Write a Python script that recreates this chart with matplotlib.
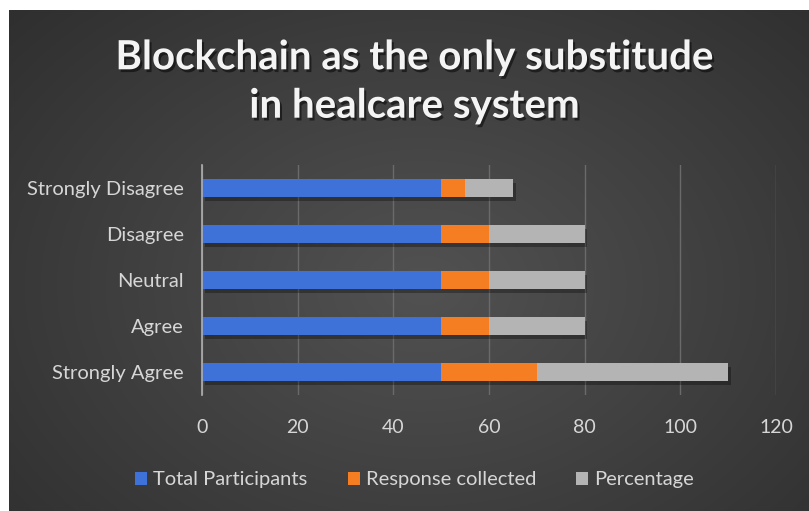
import numpy as np
import matplotlib
matplotlib.use("Agg")
import matplotlib.pyplot as plt
import matplotlib.patheffects as pe

categories = ["Strongly Agree", "Agree", "Neutral", "Disagree", "Strongly Disagree"]
total_participants = [50, 50, 50, 50, 50]
response_collected = [20, 10, 10, 10, 5]
percentage = [40, 20, 20, 20, 10]
series_names = ["Total Participants", "Response collected", "Percentage"]
xticks = [0, 20, 40, 60, 80, 100, 120]
title = "Blockchain as the only substitude\nin healcare system"

colors = ["#3F72D8", "#F57D22", "#B4B4B4"]
FONT = "Lato"

W, H = 809, 511
fig = plt.figure(figsize=(W / 100, H / 100), dpi=100)
fig.patch.set_facecolor("white")

# radial gradient background
bg = fig.add_axes([9 / W, 0, 1 - 9 / W, 1 - 10 / H])
bg.set_axis_off()
yy, xx = np.mgrid[0:200, 0:320]
cx, cy = 165, 110
r = np.sqrt(((xx - cx) / 220.0) ** 2 + ((yy - cy) / 160.0) ** 2)
val = 0.32 - 0.16 * np.clip(r, 0, 1.2) / 1.2
img = np.dstack([val, val, val])
bg.imshow(img, aspect="auto", extent=[0, 1, 0, 1], interpolation="bilinear")
bg.set_xlim(0, 1)
bg.set_ylim(0, 1)

ax = fig.add_axes([202 / W, 1 - 395 / H, (776 - 202) / W, (395 - 165) / H])
ax.patch.set_alpha(0)

y = np.arange(len(categories))
left = np.zeros(len(categories))
shadow = [pe.SimplePatchShadow(offset=(2, -3), shadow_rgbFace="black", alpha=0.3), pe.Normal()]
for name, vals, c in zip(series_names, [total_participants, response_collected, percentage], colors):
    bars = ax.barh(y, vals, left=left, height=0.39, color=c, label=name, zorder=3)
    for b in bars:
        b.set_path_effects(shadow)
    left = left + np.array(vals)

ax.set_xlim(0, 120)
ax.set_ylim(-0.5, len(categories) - 0.5)
ax.set_xticks(xticks)
ax.set_yticks(y)
ax.set_yticklabels(categories)
ax.grid(axis="x", color="#6a6a6a", linewidth=1, zorder=0)
for s in ["top", "right", "bottom"]:
    ax.spines[s].set_visible(False)
ax.spines["left"].set_color("#b0b0b0")
ax.spines["left"].set_linewidth(1.2)
ax.spines["left"].set_zorder(4)
ax.tick_params(axis="both", length=0, colors="#d0d0d0")
ax.tick_params(axis="x", pad=17, labelsize=14)
ax.tick_params(axis="y", pad=13, labelsize=14.5)
for lab in ax.get_xticklabels() + ax.get_yticklabels():
    lab.set_fontfamily(FONT)
    lab.set_color("#d6d6d6")

fig.text(0.5 + 10 / W, 1 - 82 / H, title, ha="center", va="center", fontsize=29,
         fontfamily=FONT, fontweight="bold", color="#f4f4f4", linespacing=1.38,
         path_effects=[pe.withSimplePatchShadow(offset=(1.5, -2), shadow_rgbFace="black", alpha=0.5)])

handles, labels = ax.get_legend_handles_labels()
leg = fig.legend(handles, labels, loc="center", bbox_to_anchor=(0.5 + 10 / W, 1 - 480 / H), ncol=3,
                 frameon=False, handlelength=0.6, handleheight=0.6, handletextpad=0.3,
                 columnspacing=2.0, prop={"family": FONT, "size": 14.5})
for t in leg.get_texts():
    t.set_color("#d6d6d6")
for h in leg.legend_handles:
    h.set_path_effects([])

fig.savefig("out.png", dpi=100, facecolor=fig.get_facecolor())
